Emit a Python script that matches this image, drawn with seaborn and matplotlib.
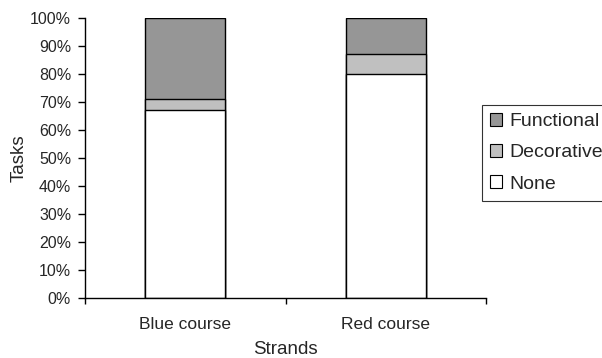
import matplotlib
matplotlib.use("Agg")
import matplotlib.pyplot as plt
from matplotlib.patches import Patch
import seaborn as sns
import pandas as pd

categories = ["Blue course", "Red course"]
none_vals = [67, 80]
decorative_vals = [4, 7]
functional_vals = [29, 13]
series_names = ["Functional", "Decorative", "None"]
series_colors = {"Functional": "#969696", "Decorative": "#C0C0C0", "None": "#FFFFFF"}
yticks = list(range(0, 101, 10))

sns.set_theme(style="white")
plt.rcParams['font.family'] = ['Liberation Sans', 'DejaVu Sans']

df = pd.DataFrame({
    "Strand": categories,
    "None": none_vals,
    "Decorative": decorative_vals,
    "Functional": functional_vals,
})
df["cum_none"] = df["None"]
df["cum_dec"] = df["None"] + df["Decorative"]
df["cum_fun"] = df["cum_dec"] + df["Functional"]

fig = plt.figure(figsize=(6.02, 3.58), dpi=100)
ax = fig.add_axes([85/602, 60/358, 401/602, 280/358])

for col, name in [("cum_fun", "Functional"), ("cum_dec", "Decorative"), ("cum_none", "None")]:
    sns.barplot(data=df, x="Strand", y=col, color=series_colors[name], saturation=1,
                edgecolor="black", linewidth=1.0, width=0.4, ax=ax, errorbar=None)

ax.set_xlim(-0.5, 1.5)
ax.set_ylim(0, 100)
ax.set_yticks(yticks)
ax.set_yticklabels([f"{t}%" for t in yticks], fontsize=11.5)
ax.set_xticks([-0.5, 0.5, 1.5], minor=False)
ax.set_xticklabels(["", "", ""])
ax.set_xticks([0, 1], minor=True)
ax.set_xticklabels(categories, minor=True, fontsize=12.5)
ax.tick_params(axis="x", which="minor", bottom=True, length=0, pad=14)
ax.tick_params(axis="x", which="major", bottom=True, length=4.5, width=1, color="black", direction="out")
ax.tick_params(axis="y", left=True, length=5, width=1, color="black", direction="out", pad=5)
for s in ["top", "right"]:
    ax.spines[s].set_visible(False)
for s in ["left", "bottom"]:
    ax.spines[s].set_color("black")
    ax.spines[s].set_linewidth(1.0)
ax.set_xlabel("Strands", fontsize=13.5, labelpad=6)
ax.set_ylabel("Tasks", fontsize=13.5, labelpad=2)
ax.grid(False)

handles = [Patch(facecolor=series_colors[n], edgecolor="black", linewidth=0.8, label=n) for n in series_names]
leg = fig.legend(handles=handles, loc="upper left", bbox_to_anchor=(482/602, 1 - 105/358),
                 frameon=True, fancybox=False, edgecolor="black", fontsize=14,
                 handlelength=0.65, handleheight=0.65, handletextpad=0.35, labelspacing=0.72,
                 borderpad=0.4, borderaxespad=0)
leg.get_frame().set_linewidth(0.8)

fig.savefig("out.png", dpi=100)
